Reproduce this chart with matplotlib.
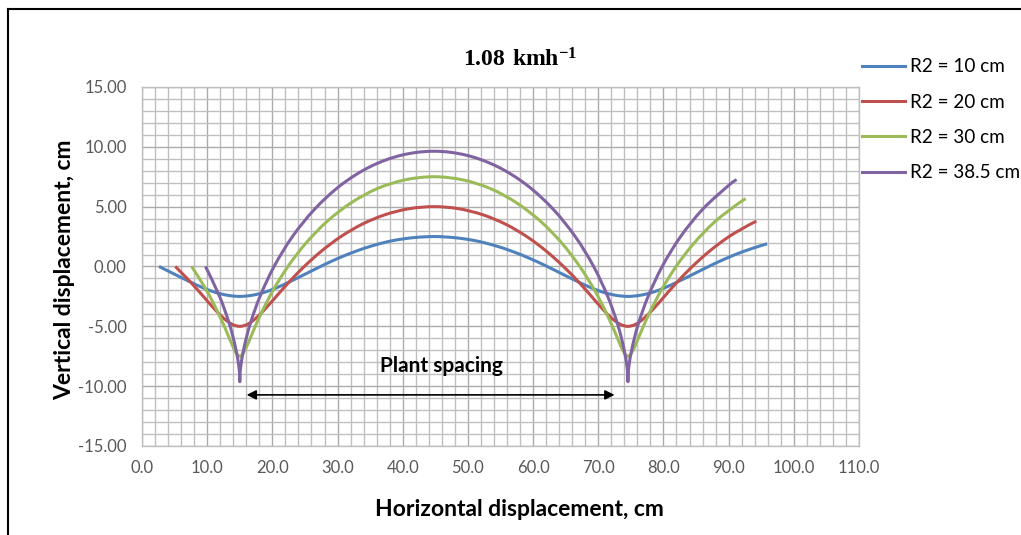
import matplotlib
matplotlib.use("Agg")
import matplotlib.pyplot as plt
from matplotlib.lines import Line2D
from matplotlib.path import Path
from matplotlib.patches import PathPatch
from matplotlib.ticker import MultipleLocator, FuncFormatter

# values (horizontal / vertical displacement, cm)
x_r10 = [2.61, 5.01, 7.24, 9.32, 11.29, 13.17, 15.00, 16.83, 18.71, 20.68, 22.76, 24.99, 27.39, 29.95,
         32.69, 35.56, 38.56, 41.65, 44.78, 47.90, 50.99, 53.99, 56.87, 59.60, 62.16, 64.56, 66.79, 68.88,
         70.84, 72.72, 74.55, 76.39, 78.26, 80.23, 82.31, 84.54, 86.94, 89.51, 92.24, 95.12, 95.91]
y_r10 = [0.00, -0.65, -1.25, -1.77, -2.17, -2.41, -2.50, -2.41, -2.17, -1.77, -1.25, -0.65, 0.00, 0.65,
         1.25, 1.77, 2.17, 2.41, 2.50, 2.41, 2.17, 1.77, 1.25, 0.65, 0.00, -0.65, -1.25, -1.77,
         -2.17, -2.41, -2.50, -2.41, -2.17, -1.77, -1.25, -0.65, 0.00, 0.65, 1.25, 1.77, 1.89]

x_r20 = [5.11, 7.42, 9.41, 11.09, 12.54, 13.81, 15.00, 16.19, 17.46, 18.91, 20.60, 22.58, 24.89, 27.54,
         30.52, 33.80, 37.31, 41.00, 44.78, 48.55, 52.24, 55.76, 59.03, 62.01, 64.66, 66.98, 68.96, 70.64,
         72.09, 73.36, 74.55, 75.74, 77.01, 78.46, 80.15, 82.13, 84.44, 87.09, 90.07, 93.35, 94.27]
y_r20 = [0.00, -1.29, -2.50, -3.54, -4.33, -4.83, -5.00, -4.83, -4.33, -3.54, -2.50, -1.29, 0.00, 1.29,
         2.50, 3.54, 4.33, 4.83, 5.00, 4.83, 4.33, 3.54, 2.50, 1.29, 0.00, -1.29, -2.50, -3.54,
         -4.33, -4.83, -5.00, -4.83, -4.33, -3.54, -2.50, -1.29, 0.00, 1.29, 2.50, 3.54, 3.77]

x_r30 = [7.61, 9.84, 11.57, 12.86, 13.79, 14.46, 15.00, 15.54, 16.21, 17.14, 18.43, 20.16, 22.39, 25.13,
         28.36, 32.03, 36.06, 40.35, 44.78, 49.20, 53.49, 57.52, 61.20, 64.43, 67.16, 69.39, 71.12, 72.41,
         73.34, 74.01, 74.55, 75.09, 75.76, 76.69, 77.98, 79.71, 81.94, 84.68, 87.91, 91.58, 92.63]
y_r30 = [0.00, -1.94, -3.75, -5.30, -6.50, -7.24, -7.50, -7.24, -6.50, -5.30, -3.75, -1.94, 0.00, 1.94,
         3.75, 5.30, 6.50, 7.24, 7.50, 7.24, 6.50, 5.30, 3.75, 1.94, 0.00, -1.94, -3.75, -5.30,
         -6.50, -7.24, -7.50, -7.24, -6.50, -5.30, -3.75, -1.94, 0.00, 1.94, 3.75, 5.30, 5.66]

x_r385 = [9.74, 11.89, 13.41, 14.36, 14.85, 15.01, 15.00, 14.99, 15.15, 15.64, 16.59, 18.11, 20.26, 23.07,
          26.52, 30.53, 35.00, 39.80, 44.78, 49.75, 54.55, 59.03, 63.04, 66.48, 69.29, 71.44, 72.96, 73.91,
          74.40, 74.56, 74.55, 74.54, 74.70, 75.19, 76.14, 77.66, 79.81, 82.62, 86.07, 90.08, 91.23]
y_r385 = [0.00, -2.49, -4.81, -6.81, -8.34, -9.30, -9.63, -9.30, -8.34, -6.81, -4.81, -2.49, 0.00, 2.49,
          4.81, 6.81, 8.34, 9.30, 9.63, 9.30, 8.34, 6.81, 4.81, 2.49, 0.00, -2.49, -4.81, -6.81,
          -8.34, -9.30, -9.63, -9.30, -8.34, -6.81, -4.81, -2.49, 0.00, 2.49, 4.81, 6.81, 7.26]

series = [
    ("R2 = 10 cm", x_r10, y_r10, "#4F81BD"),
    ("R2 = 20 cm", x_r20, y_r20, "#C0504D"),
    ("R2 = 30 cm", x_r30, y_r30, "#9BBB59"),
    ("R2 = 38.5 cm", x_r385, y_r385, "#8064A2"),
]


def smooth_path(xs, ys):
    # Excel style "smoothed line": bezier segments through every data point
    pts = list(zip(xs, ys))
    verts = [pts[0]]
    codes = [Path.MOVETO]
    n = len(pts)
    for i in range(n - 1):
        p0 = pts[max(i - 1, 0)]
        p1 = pts[i]
        p2 = pts[i + 1]
        p3 = pts[min(i + 2, n - 1)]
        c1 = (p1[0] + (p2[0] - p0[0]) / 6, p1[1] + (p2[1] - p0[1]) / 6)
        c2 = (p2[0] - (p3[0] - p1[0]) / 6, p2[1] - (p3[1] - p1[1]) / 6)
        verts += [c1, c2, p2]
        codes += [Path.CURVE4] * 3
    return Path(verts, codes)


plt.rcParams["font.family"] = ["Lato", "DejaVu Sans"]
plt.rcParams["mathtext.fontset"] = "custom"
plt.rcParams["mathtext.rm"] = "Liberation Serif"
plt.rcParams["mathtext.bf"] = "Liberation Serif:bold"

fig = plt.figure(figsize=(10.21, 5.35), dpi=100)
ax = fig.add_axes([0.1391, 0.1664, 0.7022, 0.6710])

handles = []
for label, xs, ys, col in series:
    ax.add_patch(PathPatch(smooth_path(xs, ys), fill=False, edgecolor=col, lw=2.2,
                           joinstyle="round", capstyle="butt"))
    handles.append(Line2D([], [], color=col, lw=2.2, label=label))

ax.set_xlim(0, 110)
ax.set_ylim(-15, 15)
ax.xaxis.set_major_locator(MultipleLocator(10))
ax.xaxis.set_minor_locator(MultipleLocator(2))
ax.yaxis.set_major_locator(MultipleLocator(5))
ax.yaxis.set_minor_locator(MultipleLocator(1))
ax.xaxis.set_major_formatter(FuncFormatter(lambda v, p: f"{v:.1f}"))
ax.yaxis.set_major_formatter(FuncFormatter(lambda v, p: f"{v:.2f}"))
ax.grid(which="major", color="#ABABAB", lw=1.0)
ax.grid(which="minor", color="#BFBFBF", lw=1.0)
ax.set_axisbelow(True)
ax.tick_params(which="both", length=0)
ax.tick_params(axis="y", pad=11, labelsize=12, labelcolor="#595959")
ax.tick_params(axis="x", pad=10, labelsize=12, labelcolor="#595959")
for s in ax.spines.values():
    s.set_color("#BFBFBF")
    s.set_linewidth(1.0)

ax.set_ylabel("Vertical displacement, cm", fontsize=16.5, fontweight="bold")
ax.yaxis.set_label_coords(-0.093, 0.49)
ax.set_xlabel("Horizontal displacement, cm", fontsize=16.5, fontweight="bold")
ax.xaxis.set_label_coords(0.526, -0.147)

fig.text(0.509, 0.890, r"$\mathbf{1.08\ kmh^{-1}}$", fontsize=17, ha="center", va="center")

ax.text(45.9, -8.3, "Plant spacing", fontsize=15, fontweight="bold", ha="center", va="center")
ax.annotate("", xy=(16.05, -10.73), xytext=(72.5, -10.73),
            arrowprops=dict(arrowstyle="<|-|>", color="black", lw=1.2,
                            mutation_scale=14, shrinkA=0, shrinkB=0))

fig.legend(handles=handles, loc="upper left", bbox_to_anchor=(0.8443, 0.891), frameon=False,
           fontsize=13.6, handlelength=2.28, handletextpad=0.27, labelspacing=0.97,
           borderpad=0, borderaxespad=0)

# outer frame lines (top and left edges of the chart box)
fig.add_artist(Line2D([8 / 1021, 1.0], [1 - 9 / 535, 1 - 9 / 535], transform=fig.transFigure,
                      color="black", lw=1.5))
fig.add_artist(Line2D([8 / 1021, 8 / 1021], [0.0, 1 - 9 / 535], transform=fig.transFigure,
                      color="black", lw=1.5))

fig.savefig("out.png", dpi=100)
